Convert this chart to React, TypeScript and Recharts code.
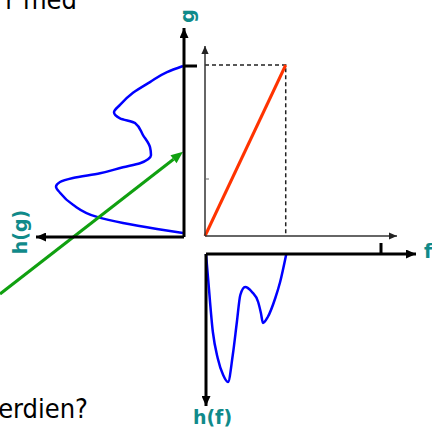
import React from 'react';
import { LineChart, Line, XAxis, YAxis, ReferenceLine } from 'recharts';

// ---------- data ----------
// input histogram h(f): grey level f -> count (drawn downward)
const fLevels = [0, 3, 10, 17, 25, 32, 39, 45, 50, 57, 67, 76, 80, 83, 90, 101, 108, 117];
const hfCounts = [0, 24, 78, 104, 121, 128, 101, 68, 41, 33, 38, 48, 59, 69, 63, 44, 28, 0];

// transfer function T: f -> g
const transferF = [0, 117];
const transferG = [0, 255];

// dashed guide lines (f range end -> g max)
const guideF = [0, 117, 117];
const guideG = [255, 255, 0];

// output histogram h(g): grey level g -> count (drawn leftward)
const gLevels = [255, 246, 231, 215, 197, 186, 177, 170, 152, 134, 122, 116, 110, 104, 95, 88, 82, 75, 66, 48, 30, 21, 12, 6];
const hgCounts = [1, 17, 34, 51, 64, 70, 64, 49, 41, 34, 33, 36, 44, 61, 84, 111, 124, 128, 124, 111, 87, 61, 27, 1];

// green mapping arrow in (h(g), g) units: start, end
const arrowH = [184, 1];
const arrowG = [-85, 127];

// axis ticks
const fMaxTick = [255];
const gMaxTick = [255];
const gMinorTick = [85];

// texts
const topText = 'r med';
const bottomText = 'erdien?';
const labelG = 'g';
const labelHg = 'h(g)';
const labelF = 'f';
const labelHf = 'h(f)';

// ---------- tables built from data ----------
const hfData = fLevels.map((f, i) => ({ f, h: hfCounts[i] }));
const transferData = transferF.map((f, i) => ({ f, g: transferG[i] }));
const guideData = guideF.map((f, i) => ({ f, g: guideG[i] }));
const hgData = gLevels.map((g, i) => ({ g, h: hgCounts[i] }));
const arrowSegment = arrowH.map((h, i) => ({ x: h, y: arrowG[i] }));

// ---------- layout ----------
const W = 432;
const H = 428;
const TEAL = '#108a8a';
const BLUE = '#0000ff';
const BODY_FONT = '"DejaVu Sans Condensed", "Liberation Sans", Arial, sans-serif';

// h(g) panel plot box
const HG = { left: 36, right: 184, top: 28, bottom: 237, gTickY: 66 };
// transfer panel plot box
const TP = { left: 206, right: 397, top: 46, bottom: 236, fTickX: 381, gTickY: 65 };
// h(f) panel plot box
const HF = { left: 206, right: 416, top: 254, bottom: 406, fTickX: 381 };

const hgGTop = 255 * (HG.bottom - HG.top) / (HG.bottom - HG.gTickY);
const hgHTop = HG.right - HG.left;
const tpFTop = 255 * (TP.right - TP.left) / (TP.fTickX - TP.left);
const tpGTop = 255 * (TP.bottom - TP.top) / (TP.bottom - TP.gTickY);
const hfFTop = 255 * (HF.right - HF.left) / (HF.fTickX - HF.left);
const hfHTop = HF.bottom - HF.top;

const abs: React.CSSProperties = { position: 'absolute', left: 0, top: 0 };
const noLabel = () => '';

const GreenArrow = (p: any) => {
  const { x1, y1, x2, y2 } = p;
  const ang = Math.atan2(y2 - y1, x2 - x1);
  const len = 12;
  const half = 5;
  const bx = x2 - len * Math.cos(ang);
  const by = y2 - len * Math.sin(ang);
  const px = -Math.sin(ang) * half;
  const py = Math.cos(ang) * half;
  return (
    <g>
      <line x1={x1} y1={y1} x2={bx} y2={by} stroke="#10a010" strokeWidth={3} />
      <polygon points={`${x2},${y2} ${bx + px},${by + py} ${bx - px},${by - py}`} fill="#10a010" />
    </g>
  );
};

export default function App() {
  return (
    <div style={{ position: 'fixed', left: 0, top: 0, width: W, height: H, background: '#fff', overflow: 'hidden' }}>
      <svg width={0} height={0} style={{ position: 'absolute' }}>
        <defs>
          <marker id="ahBlack" viewBox="0 0 10 9" refX={10} refY={4.5} markerWidth={10} markerHeight={9}
            markerUnits="userSpaceOnUse" orient="auto-start-reverse">
            <path d="M0,0L10,4.5L0,9z" fill="#000" />
          </marker>
          <marker id="ahGray" viewBox="0 0 10 9" refX={10} refY={4.5} markerWidth={8} markerHeight={7.2}
            markerUnits="userSpaceOnUse" orient="auto-start-reverse">
            <path d="M0,0L10,4.5L0,9z" fill="#222" />
          </marker>
        </defs>
      </svg>

      {/* h(g) panel */}
      <div style={abs}>
        <LineChart width={W} height={H} layout="vertical" data={hgData}
          margin={{ top: HG.top, left: HG.left, right: W - HG.right - 1, bottom: H - HG.bottom - 1 }}>
          <XAxis type="number" dataKey="h" domain={[0, hgHTop]} reversed orientation="bottom" height={1}
            ticks={[0]} tick={false} tickLine={false}
            axisLine={{ stroke: '#000', strokeWidth: 3, markerStart: 'url(#ahBlack)' } as any} />
          <YAxis type="number" dataKey="g" domain={[0, hgGTop]} reversed orientation="right" width={1}
            ticks={gMaxTick} tickFormatter={noLabel} tickSize={13} tickLine={{ stroke: '#000', strokeWidth: 3 }}
            axisLine={{ stroke: '#000', strokeWidth: 3, markerStart: 'url(#ahBlack)' } as any} />
          <Line dataKey="h" type="monotoneY" stroke={BLUE} strokeWidth={2.5} dot={false} activeDot={false}
            isAnimationActive={false} />
          <ReferenceLine segment={arrowSegment as any} ifOverflow="visible" shape={GreenArrow} />
        </LineChart>
      </div>

      {/* transfer panel */}
      <div style={abs}>
        <LineChart width={W} height={H}
          margin={{ top: TP.top, left: TP.left - 1, right: W - TP.right, bottom: H - TP.bottom - 1 }}>
          <XAxis type="number" dataKey="f" domain={[0, tpFTop]} orientation="bottom" height={1}
            ticks={[0]} tick={false} tickLine={false}
            axisLine={{ stroke: '#333', strokeWidth: 1.5, markerEnd: 'url(#ahGray)' } as any} />
          <YAxis type="number" dataKey="g" domain={[0, tpGTop]} orientation="left" width={1} mirror
            ticks={gMinorTick} tickFormatter={noLabel} tickSize={4} tickLine={{ stroke: '#666', strokeWidth: 1 }}
            axisLine={{ stroke: '#333', strokeWidth: 1.5, markerStart: 'url(#ahGray)' } as any} />
          <Line data={guideData} dataKey="g" type="linear" stroke="#222" strokeWidth={1.5}
            strokeDasharray="4 3" dot={false} activeDot={false} isAnimationActive={false} />
          <Line data={transferData} dataKey="g" type="linear" stroke="#ff3300" strokeWidth={3}
            dot={false} activeDot={false} isAnimationActive={false} />
        </LineChart>
      </div>

      {/* h(f) panel */}
      <div style={abs}>
        <LineChart width={W} height={H} data={hfData}
          margin={{ top: HF.top - 1, left: HF.left - 1, right: W - HF.right, bottom: H - HF.bottom }}>
          <XAxis type="number" dataKey="f" domain={[0, hfFTop]} orientation="top" height={1}
            ticks={fMaxTick} tickFormatter={noLabel} tickSize={11} tickLine={{ stroke: '#000', strokeWidth: 3 }}
            axisLine={{ stroke: '#000', strokeWidth: 3, markerEnd: 'url(#ahBlack)' } as any} />
          <YAxis type="number" dataKey="h" domain={[0, hfHTop]} reversed orientation="left" width={1}
            ticks={[0]} tick={false} tickLine={false}
            axisLine={{ stroke: '#000', strokeWidth: 3, markerEnd: 'url(#ahBlack)' } as any} />
          <Line dataKey="h" type="monotone" stroke={BLUE} strokeWidth={2.5} dot={false} activeDot={false}
            isAnimationActive={false} />
        </LineChart>
      </div>

      {/* texts */}
      <svg width={W} height={H} style={abs}>
        <text x={77} y={9} textAnchor="end" fontFamily={BODY_FONT} fontSize={27} fill="#000">{topText}</text>
        <text x={88} y={418} textAnchor="end" fontFamily={BODY_FONT} fontSize={27} fill="#000">{bottomText}</text>
        <g fontFamily="DejaVu Sans, sans-serif" fontWeight="bold" fontSize={19} fill={TEAL}>
          <text transform="translate(193.5,16) rotate(-90)" textAnchor="middle">{labelG}</text>
          <text transform="translate(27,232) rotate(-90)" textAnchor="middle">{labelHg}</text>
          <text x={424} y={258}>{labelF}</text>
          <text x={212.5} y={424} textAnchor="middle">{labelHf}</text>
        </g>
      </svg>
    </div>
  );
}
